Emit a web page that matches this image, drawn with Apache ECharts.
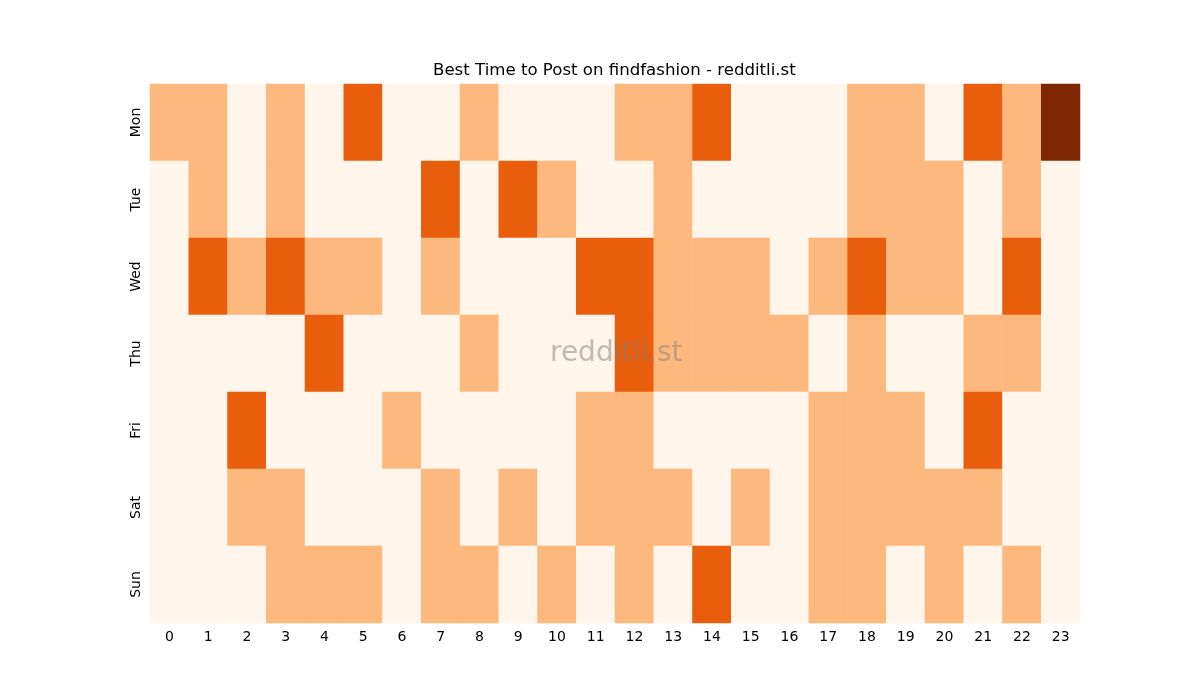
<!DOCTYPE html>
<html style="height: 100%">
    <head>
        <meta charset="utf-8">
    </head>
    <body style="height: 100%; margin: 0; background: #fff">
        <div id="container" style="width: 1200px; height: 700px"></div>

        <script type="text/javascript" src="https://cdn.jsdelivr.net/npm/echarts@6/dist/echarts.min.js"></script>
        <script type="text/javascript">
var hours = ['0','1','2','3','4','5','6','7','8','9','10','11','12','13','14','15','16','17','18','19','20','21','22','23'];
var days = ['Mon', 'Tue', 'Wed', 'Thu', 'Fri', 'Sat', 'Sun'];

// one row per day, 24 hourly values (0..3)
var mon = [1,1,0,1,0,2,0,0,1,0,0,0,1,1,2,0,0,0,1,1,0,2,1,3];
var tue = [0,1,0,1,0,0,0,2,0,2,1,0,0,1,0,0,0,0,1,1,1,0,1,0];
var wed = [0,2,1,2,1,1,0,1,0,0,0,2,2,1,1,1,0,1,2,1,1,0,2,0];
var thu = [0,0,0,0,2,0,0,0,1,0,0,0,2,1,1,1,1,0,1,0,0,1,1,0];
var fri = [0,0,2,0,0,0,1,0,0,0,0,1,1,0,0,0,0,1,1,1,0,2,0,0];
var sat = [0,0,1,1,0,0,0,1,0,1,0,1,1,1,0,1,0,1,1,1,1,1,0,0];
var sun = [0,0,0,1,1,1,0,1,1,0,1,0,1,0,2,0,0,1,1,0,1,0,1,0];
var rows = [mon, tue, wed, thu, fri, sat, sun];

var data = [];
rows.forEach(function (row, d) {
    row.forEach(function (v, h) {
        data.push([h, d, v]);
    });
});

var dom = document.getElementById("container");
var myChart = echarts.init(dom);
var option;

var axisText = { color: '#000', fontSize: 14, fontFamily: 'DejaVu Sans' };

option = {
    animation: false,
    backgroundColor: '#fff',
    title: {
        text: 'Best Time to Post on findfashion - redditli.st',
        left: 428,
        top: 57,
        textStyle: { fontSize: 16.6, fontWeight: 'normal', color: '#000', fontFamily: 'DejaVu Sans' }
    },
    grid: { left: 150, top: 84, width: 930, height: 539 },
    xAxis: {
        type: 'category',
        data: hours,
        axisLine: { show: false },
        axisTick: { alignWithLabel: true, length: 4, lineStyle: { color: '#000' } },
        axisLabel: Object.assign({ margin: 7, interval: 0 }, axisText),
        splitLine: { show: false }
    },
    yAxis: {
        type: 'category',
        data: days,
        inverse: true,
        axisLine: { show: false },
        axisTick: { alignWithLabel: true, length: 4, lineStyle: { color: '#000' } },
        axisLabel: Object.assign({ rotate: 90, margin: 7 }, axisText),
        splitLine: { show: false }
    },
    visualMap: {
        show: false,
        type: 'piecewise',
        dimension: 2,
        pieces: [
            { value: 0, color: '#fff5eb' },
            { value: 1, color: '#fdb97d' },
            { value: 2, color: '#e95e0d' },
            { value: 3, color: '#7f2704' }
        ]
    },
    series: [{
        type: 'heatmap',
        data: data,
        itemStyle: { borderWidth: 0 },
        emphasis: { disabled: true }
    }],
    graphic: [{
        type: 'text',
        left: 550,
        top: 340,
        z: 100,
        zlevel: 1,
        style: {
            text: 'redditli.st',
            fontSize: 28,
            fontFamily: 'DejaVu Sans',
            fill: 'rgba(128,128,128,0.5)'
        }
    }]
};

myChart.setOption(option);
        </script>
    </body>
</html>
